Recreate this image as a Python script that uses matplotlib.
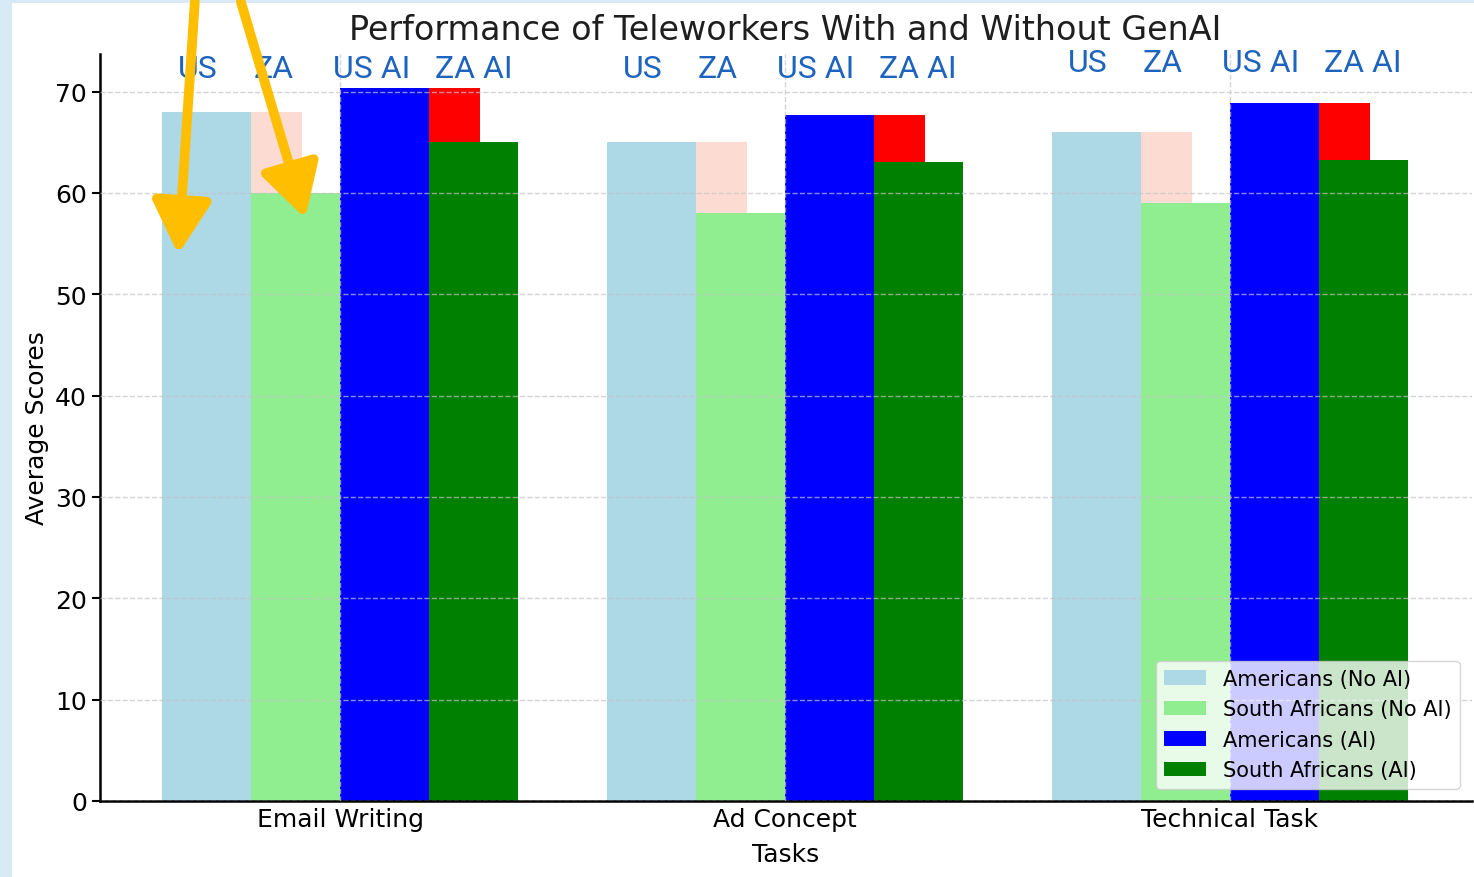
import matplotlib.pyplot as plt
from matplotlib.patches import Rectangle, FancyArrowPatch
import numpy as np

# data
tasks = ["Email Writing", "Ad Concept", "Technical Task"]
us_no_ai = [68, 65, 66]
za_no_ai = [60, 58, 59]
us_ai = [70.3, 67.7, 68.9]
za_ai = [65, 63, 63.2]
top_labels = ["US", "ZA", "US AI", "ZA AI"]
label_offsets = [-0.32, -0.15, 0.07, 0.30]
label_y = [72.3, 72.3, 72.9]

fig = plt.figure(figsize=(14.74, 8.78), dpi=100)
fig.patch.set_facecolor("#d8eaf5")
fig.patches.append(Rectangle((12 / 1474, 0), 1, 1 - 4 / 878,
                             transform=fig.transFigure, facecolor="white",
                             edgecolor="none", zorder=-10))

ax = fig.add_axes([100 / 1474, 76 / 878, 1372 / 1474, 747 / 878])
ax.patch.set_alpha(0)

x = np.arange(len(tasks))
w = 0.2
ax.bar(x - 0.3, us_no_ai, w, color="lightblue", label="Americans (No AI)")
ax.bar(x - 0.1, za_no_ai, w, color="lightgreen", label="South Africans (No AI)")
ax.bar(x + 0.1, us_ai, w, color="blue", label="Americans (AI)")
ax.bar(x + 0.3, za_ai, w, color="green", label="South Africans (AI)")

# gap bars
gap = np.array(us_no_ai) - np.array(za_no_ai)
gap_ai = np.array(us_ai) - np.array(za_ai)
ax.bar(x - 0.2, gap, 0.115, bottom=za_no_ai, align="edge", color="#fcdcd2")
ax.bar(x + 0.2, gap_ai, 0.115, bottom=za_ai, align="edge", color="red")

ax.set_xlim(-0.54, 2.545)
ax.set_ylim(0, 73.7)
ax.set_xticks(x)
ax.set_xticklabels(tasks, fontsize=18)
ax.tick_params(axis="y", labelsize=18, length=6, width=1.5)
ax.tick_params(axis="x", length=0, pad=4)
ax.set_xlabel("Tasks", fontsize=18, labelpad=8)
ax.set_ylabel("Average Scores", fontsize=18)
fig.text(785 / 1474, 1 - 31 / 878, "Performance of Teleworkers With and Without GenAI",
         fontsize=24, color="#1e1e1e", ha="center", va="center")
ax.spines["top"].set_visible(False)
ax.spines["right"].set_visible(False)
ax.spines["left"].set_linewidth(1.8)
ax.spines["bottom"].set_linewidth(1.8)
ax.set_axisbelow(False)
ax.grid(True, linestyle="--", color="#c4c4c4", alpha=0.7, linewidth=1)

for i in range(len(tasks)):
    for lab, off in zip(top_labels, label_offsets):
        ax.text(x[i] + off, label_y[i], lab, ha="center", va="center",
                fontsize=23, color="#1e64be", family="Roboto")

ax.legend(loc="lower right", fontsize=15, framealpha=0.8, borderaxespad=0.6,
          handlelength=2, handleheight=0.7)

# orange arrows
for (x0, y0), (x1, y1) in [((195, 0), (178, 258)), ((240, 0), (306, 222))]:
    fig.add_artist(FancyArrowPatch((x0 / 1474, 1 - y0 / 878), (x1 / 1474, 1 - y1 / 878),
                                   transform=fig.transFigure, color="#ffbf00",
                                   arrowstyle="-|>,head_length=16,head_width=9",
                                   linewidth=7, mutation_scale=2, zorder=20))

fig.savefig("out.png", dpi=100, facecolor=fig.get_facecolor())
